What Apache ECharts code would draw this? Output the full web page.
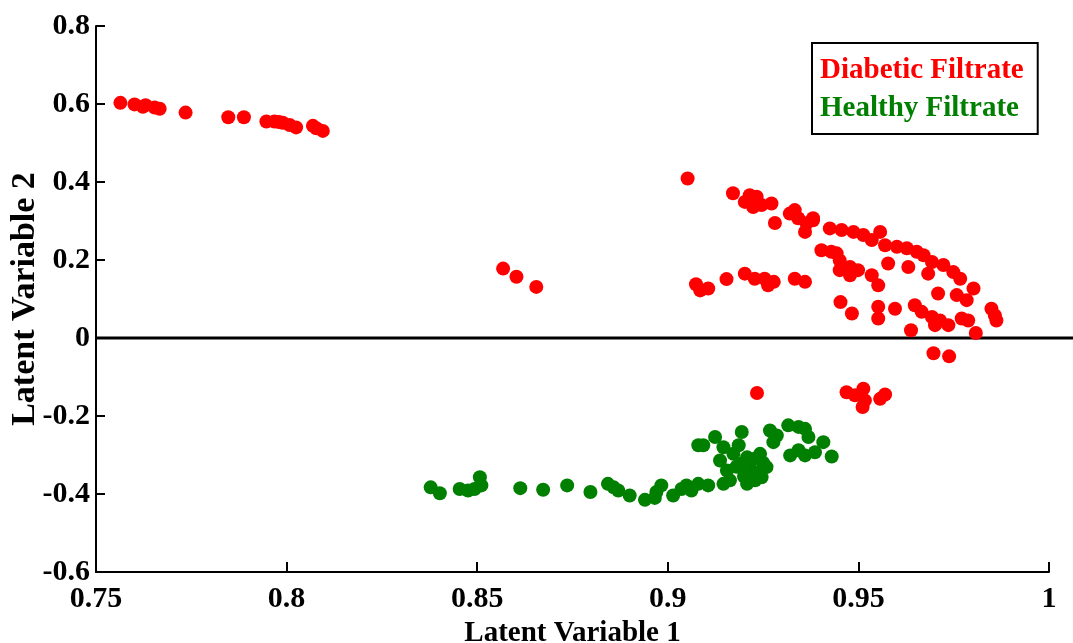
<!DOCTYPE html>
<html>
<head>
<meta charset="utf-8">
<script src="https://cdn.jsdelivr.net/npm/echarts@6/dist/echarts.min.js"></script>
<style>
html,body{margin:0;padding:0;background:#fff;}
#chart{width:1073px;height:643px;}
</style>
</head>
<body>
<div id="chart"></div>
<script>
const xTickLabels = ['0.75', '0.8', '0.85', '0.9', '0.95', '1'];
const yTickLabels = ['-0.6', '-0.4', '-0.2', '0', '0.2', '0.4', '0.6', '0.8'];
const seriesNames = ['Diabetic Filtrate', 'Healthy Filtrate'];

const diabeticX = [
  0.7564, 0.7601, 0.7623, 0.7630, 0.7654, 0.7667, 0.7735, 0.7847, 0.7888, 0.7947,
  0.7968, 0.7980, 0.7990, 0.8008, 0.8025, 0.8069, 0.8078, 0.8095,
  0.8568, 0.8603, 0.8655,
  0.9052, 0.9171, 0.9202, 0.9215, 0.9233, 0.9224, 0.9246, 0.9272, 0.9281, 0.9320,
  0.9333, 0.9342, 0.9360, 0.9381, 0.9364, 0.9381, 0.9425, 0.9456, 0.9487, 0.9513,
  0.9557, 0.9535, 0.9570, 0.9601, 0.9627, 0.9653, 0.9671, 0.9693, 0.9723, 0.9749,
  0.9767, 0.9802, 0.9784, 0.9758, 0.9709, 0.9683, 0.9631, 0.9578, 0.9403, 0.9429,
  0.9451, 0.9443, 0.9451, 0.9478, 0.9499, 0.9478, 0.9535, 0.9552, 0.9453, 0.9483,
  0.9552, 0.9552, 0.9596, 0.9648, 0.9666, 0.9693, 0.9714, 0.9736, 0.9701, 0.9771,
  0.9788, 0.9638, 0.9808, 0.9849, 0.9862, 0.9858, 0.9697, 0.9738,
  0.9074, 0.9085, 0.9106, 0.9154, 0.9202, 0.9228, 0.9254, 0.9263, 0.9278, 0.9333, 0.9360,
  0.9234, 0.9469, 0.9491, 0.9513, 0.9517, 0.9511, 0.9557, 0.9570
];
const diabeticY = [
  0.603, 0.599, 0.593, 0.597, 0.591, 0.588, 0.578, 0.566, 0.566, 0.555,
  0.555, 0.554, 0.552, 0.546, 0.540, 0.544, 0.538, 0.531,
  0.178, 0.157, 0.131,
  0.409, 0.371, 0.349, 0.366, 0.362, 0.336, 0.341, 0.345, 0.295, 0.319,
  0.328, 0.307, 0.272, 0.302, 0.294, 0.307, 0.281, 0.277, 0.272, 0.264,
  0.272, 0.251, 0.238, 0.234, 0.230, 0.221, 0.212, 0.195, 0.187, 0.169,
  0.152, 0.127, 0.097, 0.110, 0.114, 0.165, 0.182, 0.191, 0.225, 0.221,
  0.199, 0.217, 0.174, 0.182, 0.174, 0.161, 0.161, 0.135, 0.092, 0.063,
  0.080, 0.050, 0.075, 0.084, 0.067, 0.054, 0.045, 0.033, 0.033, 0.050,
  0.045, 0.020, 0.013, 0.075, 0.045, 0.058, -0.039, -0.047,
  0.138, 0.122, 0.127, 0.151, 0.165, 0.152, 0.152, 0.135, 0.144, 0.152, 0.144,
  -0.141, -0.139, -0.147, -0.130, -0.160, -0.177, -0.156, -0.145
];

const healthyX = [
  0.8378, 0.8402, 0.8454, 0.8476, 0.8493, 0.8507, 0.8511, 0.8613, 0.8673, 0.8736,
  0.8797, 0.8843, 0.8858, 0.8870, 0.8900, 0.8940, 0.8966, 0.8983, 0.8970, 0.9014,
  0.9036, 0.9049, 0.9062, 0.9080, 0.9106, 0.9080, 0.9093, 0.9124, 0.9146, 0.9137,
  0.9155, 0.9146, 0.9163, 0.9172, 0.9194, 0.9186, 0.9208, 0.9194, 0.9220, 0.9229,
  0.9208, 0.9246, 0.9259, 0.9242, 0.9268, 0.9286, 0.9277, 0.9316, 0.9343, 0.9360,
  0.9369, 0.9321, 0.9343, 0.9360, 0.9386, 0.9408, 0.9430,
  0.9215, 0.9235, 0.9200, 0.9225, 0.9250, 0.9180
];
const healthyY = [
  -0.383, -0.398, -0.387, -0.391, -0.387, -0.357, -0.378, -0.385, -0.389, -0.378,
  -0.395, -0.374, -0.383, -0.391, -0.404, -0.415, -0.410, -0.378, -0.395, -0.404,
  -0.387, -0.378, -0.391, -0.374, -0.378, -0.275, -0.275, -0.254, -0.280, -0.314,
  -0.340, -0.374, -0.365, -0.297, -0.241, -0.275, -0.306, -0.322, -0.340, -0.365,
  -0.374, -0.357, -0.331, -0.297, -0.237, -0.250, -0.267, -0.224, -0.228, -0.233,
  -0.254, -0.301, -0.288, -0.301, -0.293, -0.267, -0.304,
  -0.320, -0.345, -0.355, -0.310, -0.320, -0.330
];

const zip = (xs, ys) => xs.map((x, i) => [x, ys[i]]);
const FONT = '"Liberation Serif", "Times New Roman", serif';

const chart = echarts.init(document.getElementById('chart'));
chart.setOption({
  animation: false,
  backgroundColor: '#ffffff',
  grid: { left: 96, right: 24, top: 26, bottom: 71, containLabel: false, outerBoundsMode: 'none' },
  legend: {
    orient: 'vertical',
    left: 812,
    top: 43,
    icon: 'none',
    itemWidth: 0,
    itemHeight: 28,
    itemGap: 9,
    padding: [13, 14, 11, 3],
    borderColor: '#000',
    borderWidth: 2,
    backgroundColor: '#fff',
    selectedMode: false,
    textStyle: { fontFamily: FONT, fontWeight: 'bold', fontSize: 29 },
    data: [
      { name: seriesNames[0], textStyle: { color: '#ff0000' } },
      { name: seriesNames[1], textStyle: { color: '#007f00' } }
    ]
  },
  xAxis: {
    type: 'value',
    min: 0.75, max: 1, interval: 0.05,
    name: 'Latent Variable 1',
    nameLocation: 'middle',
    nameGap: 44,
    nameTextStyle: { fontFamily: FONT, fontWeight: 'bold', fontSize: 29, color: '#000' },
    axisLine: { show: true, onZero: false, lineStyle: { color: '#000', width: 2 } },
    axisTick: { show: true, inside: true, length: 10, lineStyle: { color: '#000', width: 2 } },
    axisLabel: {
      margin: 12,
      fontFamily: FONT, fontWeight: 'bold', fontSize: 30, color: '#000',
      formatter: (v, i) => xTickLabels[i]
    },
    splitLine: { show: false }
  },
  yAxis: {
    type: 'value',
    min: -0.6, max: 0.8, interval: 0.2,
    name: 'Latent Variable 2',
    nameLocation: 'middle',
    nameGap: 54,
    nameMoveOverlap: false,
    nameTextStyle: { fontFamily: FONT, fontWeight: 'bold', fontSize: 34, color: '#000' },
    axisLine: { show: true, onZero: false, lineStyle: { color: '#000', width: 2 } },
    axisTick: { show: true, inside: true, length: 9, lineStyle: { color: '#000', width: 2 } },
    axisLabel: {
      margin: 6,
      fontFamily: FONT, fontWeight: 'bold', fontSize: 30, color: '#000',
      formatter: (v, i) => yTickLabels[i]
    },
    splitLine: { show: false }
  },
  series: [
    {
      name: seriesNames[0], type: 'scatter', symbol: 'circle', symbolSize: 14,
      itemStyle: { color: '#ff0000', opacity: 1 },
      data: zip(diabeticX, diabeticY)
    },
    {
      name: seriesNames[1], type: 'scatter', symbol: 'circle', symbolSize: 14,
      itemStyle: { color: '#007f00', opacity: 1 },
      data: zip(healthyX, healthyY)
    }
  ]
});

// zero reference line extending from the y axis to the right edge
const p0 = chart.convertToPixel({ gridIndex: 0 }, [0.75, 0]);
chart.setOption({
  graphic: [{
    type: 'line',
    z: 1,
    shape: { x1: p0[0], y1: p0[1], x2: chart.getWidth(), y2: p0[1] },
    style: { stroke: '#000', lineWidth: 3 }
  }]
});
</script>
</body>
</html>
